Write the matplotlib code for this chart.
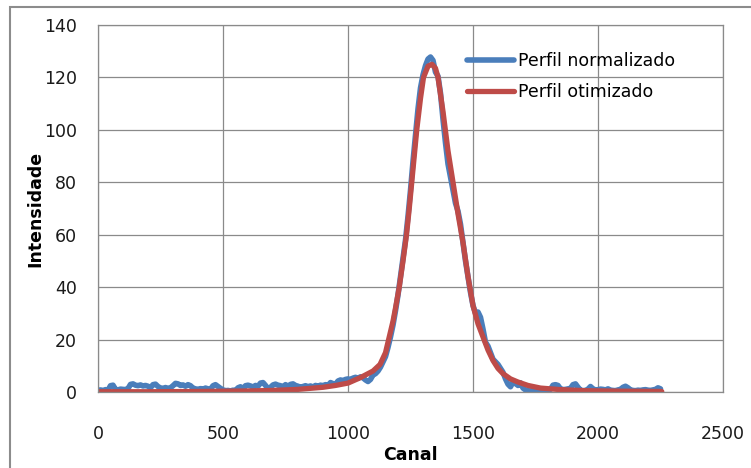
import matplotlib
matplotlib.use("Agg")
import matplotlib.pyplot as plt
from matplotlib.patches import Rectangle

# ---------------- data ----------------
blue_start = 0
blue_step = 10
blue_values = [
    0.6, 0.8, 0.5, 0.9, 0.7, 2.4, 2.6, 1.0, 0.8, 1.1,
    1.0, 0.9, 1.3, 2.9, 3.1, 2.6, 2.4, 2.7, 2.3, 2.5,
    2.2, 1.6, 2.8, 3.0, 2.1, 1.5, 1.4, 1.7, 1.3, 1.6,
    2.4, 3.3, 3.1, 2.5, 2.7, 2.2, 2.8, 2.4, 1.5, 1.2,
    1.0, 1.3, 1.1, 1.5, 1.2, 1.0, 2.4, 2.8, 2.1, 1.4,
    0.8, 0.5, 0.6, 0.4, 0.7, 0.5, 1.6, 2.0, 1.2, 2.4,
    2.6, 2.3, 1.9, 2.5, 2.2, 3.4, 3.6, 2.5, 1.3, 1.8,
    2.7, 3.0, 2.6, 2.4, 1.9, 2.8, 2.2, 2.9, 3.1, 2.5,
    2.2, 1.8, 2.1, 2.4, 2.0, 2.3, 1.9, 2.5, 2.2, 2.6,
    2.4, 2.8, 2.5, 3.6, 3.2, 2.9, 4.2, 4.6, 4.3, 4.8,
    5.0, 4.7, 5.3, 5.6, 5.2, 5.8, 5.4, 4.6, 4.0, 4.8,
    6.5, 7.0, 8.0, 9.5, 11.5, 13.5, 17.0, 21.0, 25.5, 31.0,
    37.0, 44.0, 51.0, 58.0, 67.0, 77.0, 88.0, 98.0, 108.0, 116.0,
    121.0, 124.5, 127.0, 127.8, 126.5, 122.0, 120.5, 114.0, 104.0, 95.0,
    87.0, 82.0, 77.0, 72.0, 69.0, 64.0, 57.0, 50.0, 44.0, 38.0,
    33.0, 30.0, 30.5, 28.5, 24.0, 19.0, 17.5, 15.0, 12.5, 11.5,
    10.5, 9.0, 7.5, 5.0, 3.0, 2.0, 3.8, 3.2, 2.5, 3.5,
    1.5, 0.8, 0.5, 0.4, 0.6, 0.3, 0.5, 0.7, 0.4, 0.6,
    0.8, 1.0, 2.6, 2.8, 2.5, 1.2, 0.9, 1.0, 1.2, 1.4,
    2.8, 3.1, 1.8, 0.7, 0.5, 0.6, 1.1, 2.1, 1.2, 0.8,
    0.9, 1.1, 1.0, 0.8, 1.2, 0.7, 0.6, 0.5, 0.8, 1.0,
    1.8, 2.2, 1.6, 0.8, 0.6, 0.5, 0.7, 0.6, 0.8, 0.9,
    0.7, 0.6, 0.8, 1.0, 1.6, 1.2,
]
blue_channels = [blue_start + i * blue_step for i in range(len(blue_values))]

red_channels = [0, 200, 400, 600, 700, 800, 900, 950, 1000, 1050, 1100, 1128,
                1150, 1160, 1170, 1180, 1190, 1205, 1220, 1234, 1245, 1255,
                1265, 1275, 1290, 1302, 1320, 1336, 1350, 1360, 1370, 1380,
                1390, 1400, 1410, 1420, 1430, 1440, 1450, 1460, 1470, 1480,
                1490, 1500, 1510, 1520, 1530, 1540, 1550, 1560, 1570, 1580,
                1590, 1600, 1620, 1650, 1680, 1720, 1770, 1850, 1950, 2100, 2255]
red_values = [0.1, 0.1, 0.2, 0.4, 0.6, 1.0, 1.8, 2.5, 3.4, 5.5, 8.0, 10.5,
              15.0, 19.0, 23.0, 27.0, 32.0, 40.0, 50.0, 60.0, 70.0, 80.0,
              90.0, 100.0, 112.0, 120.0, 124.3, 125.0, 123.5, 120.0, 113.5, 107.0,
              99.5, 92.0, 86.0, 80.0, 74.0, 68.0, 62.5, 57.0, 50.5, 44.0,
              38.5, 33.0, 29.5, 26.0, 23.5, 21.0, 18.5, 16.0, 14.0, 12.0,
              10.5, 9.0, 7.0, 5.0, 3.8, 2.5, 1.5, 0.9, 0.5, 0.3, 0.2]

series_labels = ["Perfil normalizado", "Perfil otimizado"]
x_ticks = [0, 500, 1000, 1500, 2000, 2500]
y_ticks = [0, 20, 40, 60, 80, 100, 120, 140]
x_label = "Canal"
y_label = "Intensidade"

# ---------------- plot ----------------
W, H = 751, 468
fig = plt.figure(figsize=(W / 100, H / 100), dpi=100)
fig.patch.set_facecolor("white")

# outer frame (cut at right/bottom)
fig.add_artist(Rectangle((10 / W, -0.05), 1.1, (H - 7) / H + 0.05,
                         transform=fig.transFigure, fill=False,
                         edgecolor="#8c8c8c", linewidth=1.5))

left, right, top, bottom = 98, 723, 25, 392
ax = fig.add_axes([left / W, (H - bottom) / H, (right - left) / W, (bottom - top) / H])

grid_c = "#8a8a8a"
ax.plot(blue_channels, blue_values, color="#4a7ebb", linewidth=4.0,
        solid_joinstyle="round", solid_capstyle="round", label=series_labels[0])
ax.plot(red_channels, red_values, color="#be4b48", linewidth=3.8,
        solid_joinstyle="round", solid_capstyle="round", label=series_labels[1])

ax.set_xlim(0, 2500)
ax.set_ylim(0, 140)
ax.set_xticks(x_ticks)
ax.set_yticks(y_ticks)
ax.grid(True, color=grid_c, linewidth=0.9)
ax.set_axisbelow(True)
for s in ax.spines.values():
    s.set_color(grid_c)
    s.set_linewidth(0.9)

fs = 12.5
ax.tick_params(axis="both", length=0, labelsize=fs, colors="#1a1a1a")
ax.tick_params(axis="y", pad=15)
ax.tick_params(axis="x", pad=24)

ax.set_xlabel(x_label, fontsize=fs, fontweight="bold", labelpad=2)
ax.set_ylabel(y_label, fontsize=fs, fontweight="bold", labelpad=0)

leg = ax.legend(loc="upper left", bbox_to_anchor=(0.58, 0.945), frameon=False,
                fontsize=fs, handlelength=2.7, handletextpad=0.2,
                labelspacing=0.75, borderaxespad=0)

fig.savefig("out.png", dpi=100)
